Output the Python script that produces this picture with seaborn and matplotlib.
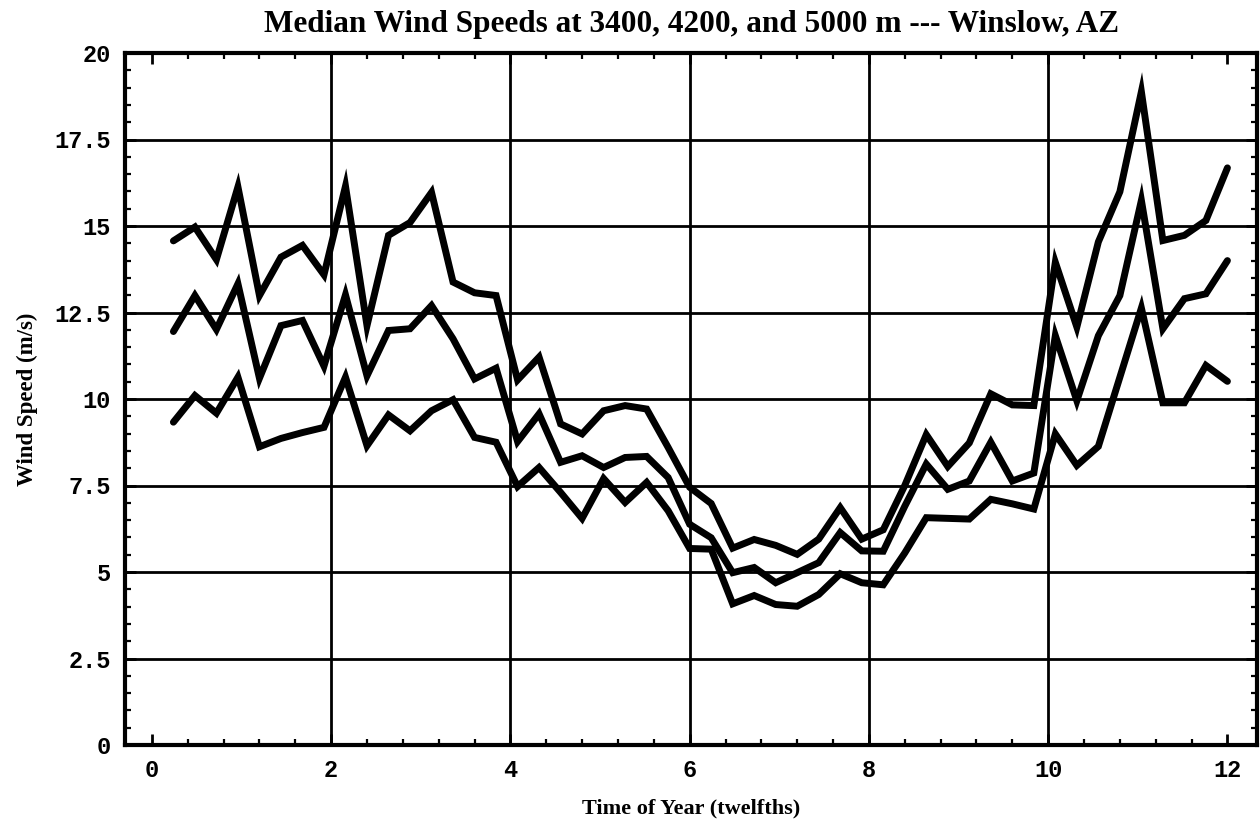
import numpy as np
import pandas as pd
import matplotlib
matplotlib.use("Agg")
import matplotlib.pyplot as plt
import seaborn as sns
from matplotlib.ticker import MultipleLocator, FixedLocator

# ---- data ----
time_twelfths = [round(0.24 * k, 2) for k in range(1, 51)]

speed_5000 = [14.57, 14.97, 14.03, 16.13, 12.99, 14.10, 14.44, 13.59, 16.15, 12.12,
              14.73, 15.10, 15.97, 13.38, 13.07, 12.99, 10.55, 11.21, 9.28, 8.99,
              9.66, 9.81, 9.71, 8.60, 7.45, 6.98, 5.69, 5.94, 5.77, 5.51,
              5.95, 6.86, 5.95, 6.22, 7.50, 8.97, 8.05, 8.73, 10.15, 9.83,
              9.81, 13.95, 12.08, 14.54, 15.99, 18.88, 14.58, 14.73, 15.16, 16.68]

speed_4200 = [11.95, 12.99, 12.01, 13.33, 10.60, 12.12, 12.27, 10.95, 13.01, 10.67,
              11.98, 12.03, 12.70, 11.74, 10.58, 10.89, 8.77, 9.57, 8.17, 8.36,
              8.02, 8.31, 8.34, 7.73, 6.38, 5.99, 4.98, 5.13, 4.69, 4.98,
              5.27, 6.14, 5.61, 5.60, 6.90, 8.12, 7.39, 7.63, 8.75, 7.63,
              7.86, 11.83, 9.95, 11.83, 12.99, 15.74, 12.03, 12.90, 13.04, 14.00]

speed_3400 = [9.33, 10.10, 9.59, 10.63, 8.62, 8.86, 9.03, 9.18, 10.63, 8.65,
              9.54, 9.08, 9.66, 9.98, 8.89, 8.75, 7.47, 8.02, 7.30, 6.55,
              7.70, 7.01, 7.59, 6.77, 5.68, 5.66, 4.08, 4.32, 4.06, 4.01,
              4.35, 4.95, 4.69, 4.63, 5.55, 6.57, 6.55, 6.53, 7.10, 6.97,
              6.82, 8.99, 8.08, 8.63, 10.63, 12.63, 9.89, 9.89, 10.97, 10.51]

series_names = ["5000 m", "4200 m", "3400 m"]
x_ticks = [0, 2, 4, 6, 8, 10, 12]
x_tick_labels = ["0", "2", "4", "6", "8", "10", "12"]
y_ticks = [0, 2.5, 5, 7.5, 10, 12.5, 15, 17.5, 20]
y_tick_labels = ["0", "2.5", "5", "7.5", "10", "12.5", "15", "17.5", "20"]

title = "Median Wind Speeds at 3400, 4200, and 5000 m --- Winslow, AZ"
xlabel = "Time of Year (twelfths)"
ylabel = "Wind Speed (m/s)"

df = pd.concat([
    pd.DataFrame({"t": time_twelfths, "speed": s, "level": n})
    for n, s in zip(series_names, [speed_5000, speed_4200, speed_3400])
], ignore_index=True)

# ---- plot ----
sns.set_style("white")
plt.rcParams["font.family"] = ["Liberation Serif", "DejaVu Serif"]

fig = plt.figure(figsize=(12.6, 8.33), dpi=100)
ax = fig.add_axes([125 / 1260, 1 - 745 / 833, (1257 - 125) / 1260, (745 - 53) / 833])

sns.lineplot(data=df, x="t", y="speed", hue="level",
             palette=["black", "black", "black"], linewidth=5.0,
             legend=False, ax=ax, solid_capstyle="round", solid_joinstyle="miter")

ax.set_xlim(-0.30, 12.33)
ax.set_ylim(0, 20)

ax.xaxis.set_major_locator(FixedLocator(x_ticks))
ax.set_xticklabels(x_tick_labels)
ax.yaxis.set_major_locator(FixedLocator(y_ticks))
ax.set_yticklabels(y_tick_labels)
ax.xaxis.set_minor_locator(MultipleLocator(0.4))
ax.yaxis.set_minor_locator(MultipleLocator(0.5))

ax.grid(True, which="major", color="black", linewidth=2.0)
for gl in ax.xaxis.get_gridlines():
    x0 = gl.get_xdata()[0]
    if x0 <= 0 or x0 >= 12:
        gl.set_visible(False)
for gl in ax.yaxis.get_gridlines():
    y0 = gl.get_ydata()[0]
    if y0 <= 0 or y0 >= 20:
        gl.set_visible(False)
ax.set_axisbelow(True)

for sp in ax.spines.values():
    sp.set_visible(True)
    sp.set_color("black")
    sp.set_linewidth(3.0)

ax.tick_params(which="major", direction="in", length=8, width=2, top=True, right=True,
               bottom=True, left=True, pad=10, color="black")
ax.tick_params(which="minor", direction="in", length=4.5, width=1.6, top=True, right=True,
               bottom=True, left=True, color="black")

for lab in ax.get_xticklabels() + ax.get_yticklabels():
    lab.set_family(["Liberation Mono", "DejaVu Sans Mono"])
    lab.set_fontsize(17)
    lab.set_fontweight("bold")
    lab.set_color("black")

ax.set_xlabel(xlabel, fontsize=16, fontweight="bold", labelpad=12, color="black")
ax.set_ylabel(ylabel, fontsize=16.5, fontweight="bold", labelpad=12, color="black")
ax.set_title(title, fontsize=22.5, fontweight="bold", pad=15, color="black")

fig.savefig("out.png", dpi=100, facecolor="white")
